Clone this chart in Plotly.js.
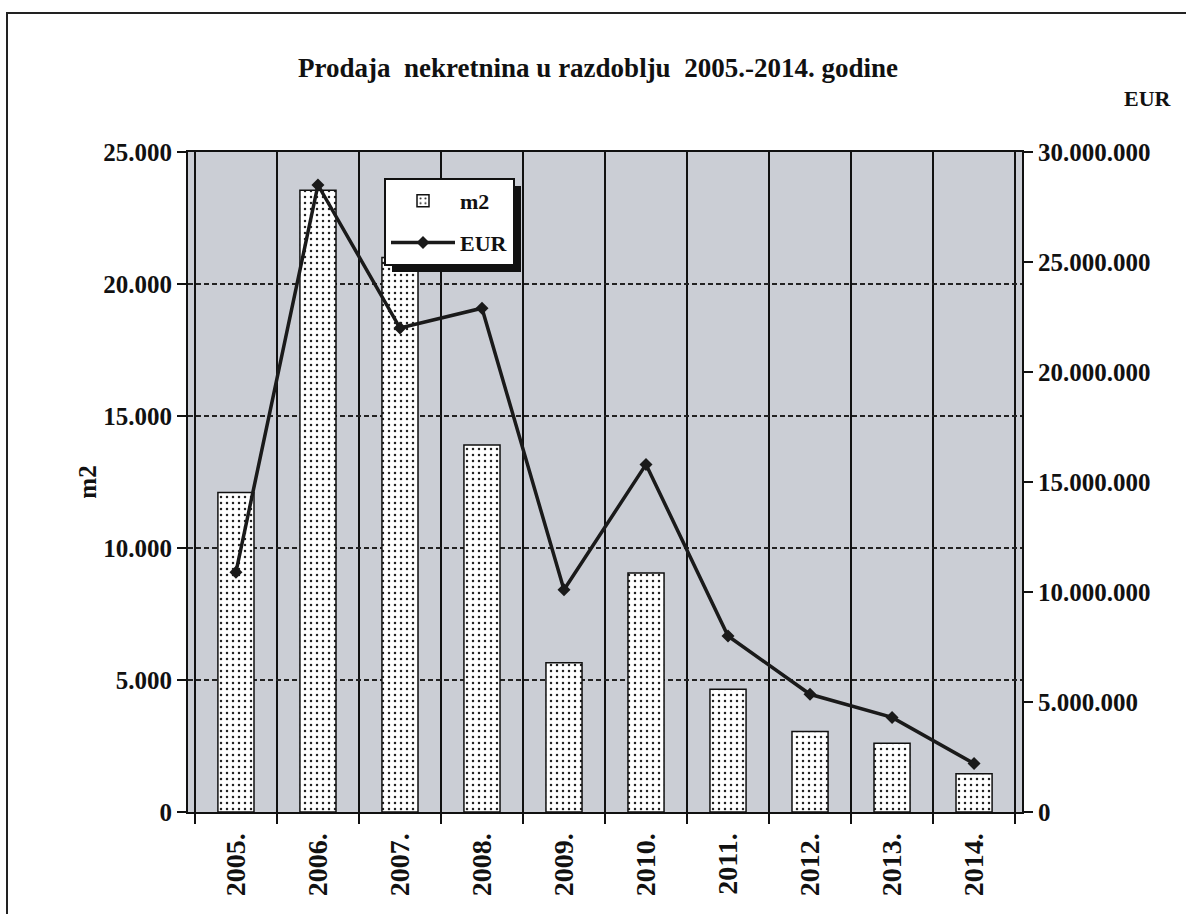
<!DOCTYPE html>
<html>
<head>
<meta charset="utf-8">
<script src="https://cdn.plot.ly/plotly-3.0.1.min.js"></script>
<style>
  html, body { margin: 0; padding: 0; background: #fff; }
  #frame { position: absolute; left: 6px; top: 12px; width: 1180px; height: 902px;
           border-top: 2px solid #222; border-left: 2px solid #222; }
  #chart { position: absolute; left: 0; top: 0; width: 1186px; height: 914px; }
</style>
</head>
<body>
<div id="frame"></div>
<div id="chart"></div>
<script>
// ---- data ----
const years = ['2005.', '2006.', '2007.', '2008.', '2009.', '2010.', '2011.', '2012.', '2013.', '2014.'];
const m2Values = [12100, 23550, 21000, 13900, 5650, 9050, 4650, 3050, 2600, 1450];
const eurValues = [10900000, 28500000, 22000000, 22900000, 10100000, 15800000, 8000000, 5350000, 4300000, 2200000];
const leftTicks = [0, 5000, 10000, 15000, 20000, 25000];
const rightTicks = [0, 5000000, 10000000, 15000000, 20000000, 25000000, 30000000];

const serif = '"Liberation Serif", "Times New Roman", serif';
const axFont = { family: serif, size: 25, color: '#111', weight: 700 };

const traces = [
  {
    type: 'bar', name: 'm2', x: years, y: m2Values, yaxis: 'y', width: 0.44,
    legendgroup: 'a',
    marker: {
      color: 'white',
      line: { color: '#111', width: 1.5 },
      pattern: { shape: '.', fgcolor: '#222', bgcolor: 'white', size: 6, solidity: 0.14 }
    },
    hoverinfo: 'skip'
  },
  {
    type: 'scatter', mode: 'lines+markers', name: 'EUR', x: years, y: eurValues, yaxis: 'y2',
    legendgroup: 'b',
    line: { color: '#1a1a1a', width: 3.5 },
    marker: { symbol: 'diamond', size: 10, color: '#1a1a1a' },
    hoverinfo: 'skip'
  }
];

const layout = {
  width: 1186, height: 914,
  margin: { l: 188, r: 164, t: 152, b: 102 },
  paper_bgcolor: 'rgba(0,0,0,0)',
  plot_bgcolor: '#cbced5',
  separators: ',.',
  showlegend: true,
  title: {
    text: 'Prodaja\u00a0 nekretnina u razdoblju\u00a0 2005.-2014. godine',
    font: { family: serif, size: 27, color: '#111', weight: 700 },
    x: 598 / 1186, xref: 'container', xanchor: 'center',
    y: 1 - 68 / 914, yref: 'container', yanchor: 'middle'
  },
  xaxis: {
    type: 'category',
    tickson: 'boundaries',
    showgrid: true, gridcolor: '#111', gridwidth: 2,
    showline: true, linecolor: '#111', linewidth: 2, mirror: true,
    ticks: 'outside', ticklen: 10, tickwidth: 2, tickcolor: '#111',
    tickangle: -90,
    ticklabelstandoff: 8,
    tickfont: { family: serif, size: 28, color: '#111', weight: 700 },
    fixedrange: true
  },
  yaxis: {
    range: [0, 25000],
    tickvals: leftTicks, tickformat: ',d',
    showgrid: true, gridcolor: '#222', gridwidth: 1.5, griddash: '5px,3px',
    zeroline: false,
    showline: true, linecolor: '#111', linewidth: 2,
    ticks: 'outside', ticklen: 9, tickwidth: 2, tickcolor: '#111',
    tickfont: axFont,
    title: { text: 'm2', font: { family: serif, size: 25, color: '#111', weight: 700 }, standoff: 0 },
    fixedrange: true
  },
  yaxis2: {
    overlaying: 'y', side: 'right',
    range: [0, 30000000],
    tickvals: rightTicks, tickformat: ',d',
    showgrid: false, zeroline: false,
    showline: true, linecolor: '#111', linewidth: 2,
    ticks: 'outside', ticklen: 9, tickwidth: 2, tickcolor: '#111',
    tickfont: axFont,
    fixedrange: true
  },
  legend: {
    x: (384 - 188) / 834, xanchor: 'left',
    y: (812 - 178) / 660, yanchor: 'top',
    bgcolor: 'white', bordercolor: '#111', borderwidth: 2,
    font: { family: serif, size: 22, color: '#111', weight: 700 },
    traceorder: 'grouped', tracegroupgap: 10,
    itemwidth: 64
  },
  annotations: [
    {
      text: 'EUR', xref: 'paper', yref: 'paper',
      x: (1148 - 188) / 834, y: (812 - 98) / 660,
      xanchor: 'center', yanchor: 'middle', showarrow: false,
      font: { family: serif, size: 22, color: '#111', weight: 700 }
    }
  ]
};

const gd = document.getElementById('chart');
Plotly.newPlot(gd, traces, layout, { displayModeBar: false, staticPlot: true }).then(function () {
  // drop shadow behind the legend box
  const bg = gd.querySelector('.legend .bg');
  if (!bg) return;
  const r = bg.getBoundingClientRect();
  const g = gd.getBoundingClientRect();
  const s = gd._fullLayout._size;
  const off = 7;
  const px2x = function (p) { return (p - g.left - s.l) / s.w; };
  const py2y = function (p) { return 1 - (p - g.top - s.t) / s.h; };
  Plotly.relayout(gd, {
    shapes: [{
      type: 'rect', xref: 'paper', yref: 'paper', layer: 'above',
      x0: px2x(r.left + off), x1: px2x(r.right + off),
      y0: py2y(r.bottom + off), y1: py2y(r.top + off),
      fillcolor: '#111', line: { width: 0 }
    }]
  });
});
</script>
</body>
</html>
